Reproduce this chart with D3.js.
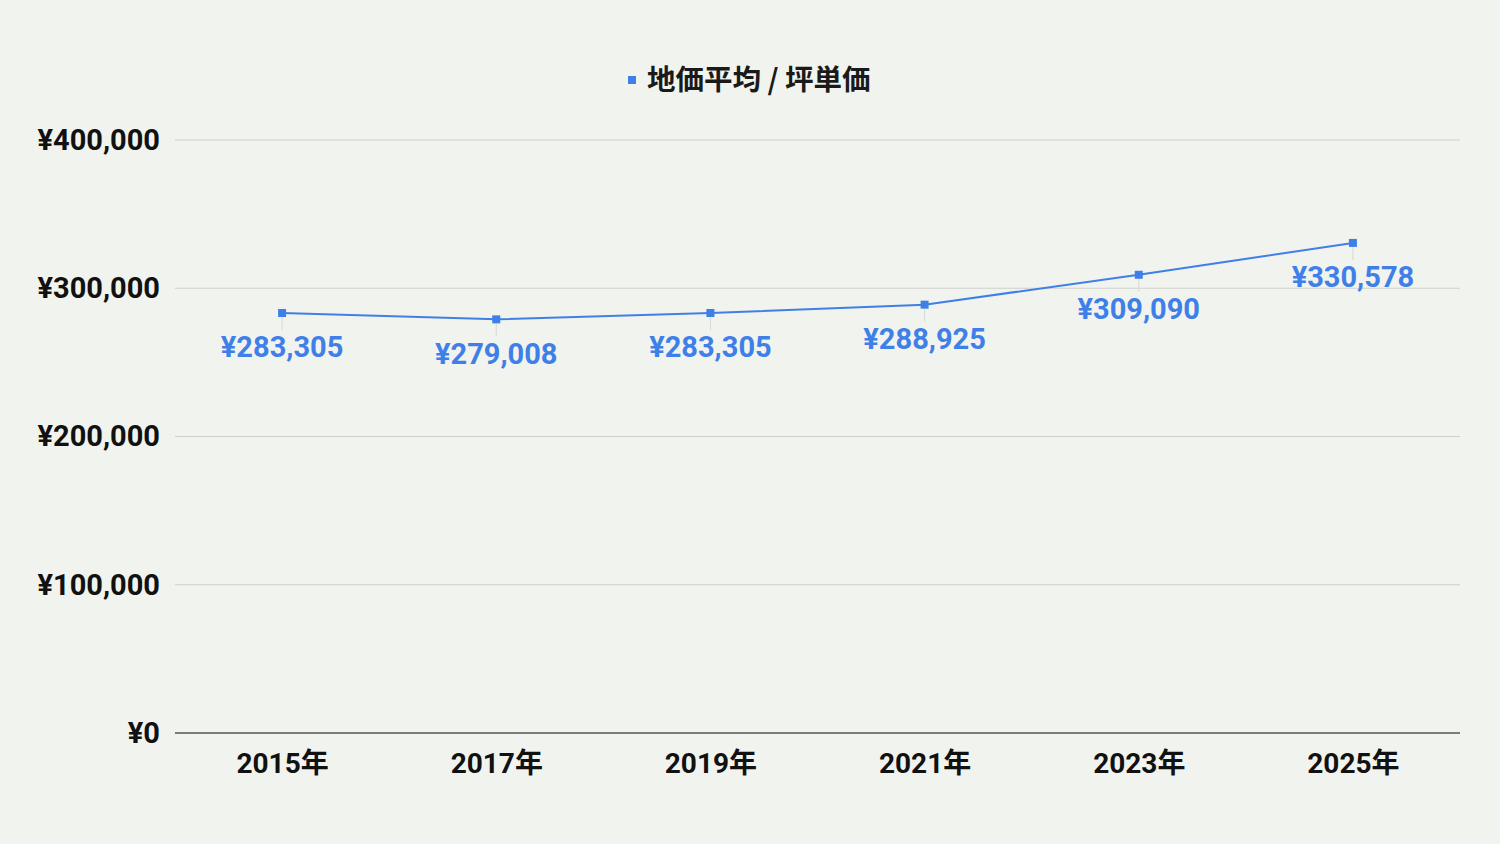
<!DOCTYPE html>
<html>
<head>
<meta charset="utf-8">
<script src="https://cdn.jsdelivr.net/npm/d3@7"></script>
<style>
  html, body { margin: 0; padding: 0; background: #f1f3ee; }
  svg { display: block; }
</style>
</head>
<body>
<div id="wrapper"></div>
<script>
const years = ["2015年", "2017年", "2019年", "2021年", "2023年", "2025年"];
const prices = [283305, 279008, 283305, 288925, 309090, 330578];
const yTicks = [0, 100000, 200000, 300000, 400000];
const seriesName = "地価平均 / 坪単価";

const dimensions = {
  width: 1500,
  height: 844,
  margins: { top: 140, right: 40, bottom: 111, left: 175 }
};
dimensions.boundedWidth = dimensions.width - dimensions.margins.left - dimensions.margins.right;
dimensions.boundedHeight = dimensions.height - dimensions.margins.top - dimensions.margins.bottom;

const blue = "#3f80e8";
const font = "Roboto, 'Noto Sans CJK JP', sans-serif";
const yen = (v) => "¥" + d3.format(",")(v);

const wrapper = d3.select("#wrapper")
  .append("svg")
  .attr("width", dimensions.width)
  .attr("height", dimensions.height)
  .style("background", "#f1f3ee");

const bounds = wrapper.append("g")
  .attr("transform", `translate(${dimensions.margins.left},${dimensions.margins.top})`);

// scales
const xScale = d3.scalePoint()
  .domain(years)
  .range([0, dimensions.boundedWidth])
  .padding(0.5);

const yScale = d3.scaleLinear()
  .domain([0, 400000])
  .range([dimensions.boundedHeight, 0]);

// grid
bounds.append("g")
  .selectAll("line")
  .data(yTicks.filter(d => d > 0))
  .join("line")
  .attr("x1", 0)
  .attr("x2", dimensions.boundedWidth)
  .attr("y1", d => yScale(d))
  .attr("y2", d => yScale(d))
  .attr("stroke", "#cfd0cc")
  .attr("stroke-width", 1);

// y axis
const yAxis = bounds.append("g")
  .call(d3.axisLeft(yScale).tickValues(yTicks).tickFormat(yen).tickSize(0).tickPadding(15));
yAxis.select(".domain").remove();
yAxis.selectAll("text")
  .attr("fill", "#111")
  .style("font-family", font)
  .style("font-weight", "bold")
  .style("font-size", "29px");

// baseline
bounds.append("line")
  .attr("x1", 0)
  .attr("x2", dimensions.boundedWidth)
  .attr("y1", yScale(0))
  .attr("y2", yScale(0))
  .attr("stroke", "#555650")
  .attr("stroke-width", 1.3);

// x axis
const xAxis = bounds.append("g")
  .attr("transform", `translate(0,${dimensions.boundedHeight})`)
  .call(d3.axisBottom(xScale).tickSize(0).tickPadding(20));
xAxis.select(".domain").remove();
xAxis.selectAll("text")
  .attr("fill", "#111")
  .style("font-family", font)
  .style("font-weight", "bold")
  .style("font-size", "28px");

// leader lines
bounds.append("g")
  .selectAll("line")
  .data(prices)
  .join("line")
  .attr("x1", (d, i) => xScale(years[i]))
  .attr("x2", (d, i) => xScale(years[i]))
  .attr("y1", d => yScale(d) + 4)
  .attr("y2", d => yScale(d) + 17)
  .attr("stroke", "#d6dad2")
  .attr("stroke-width", 1);

// line
const lineGenerator = d3.line()
  .x((d, i) => xScale(years[i]))
  .y(d => yScale(d));

bounds.append("path")
  .datum(prices)
  .attr("d", lineGenerator)
  .attr("fill", "none")
  .attr("stroke", blue)
  .attr("stroke-width", 2);

// markers
bounds.append("g")
  .selectAll("rect")
  .data(prices)
  .join("rect")
  .attr("x", (d, i) => xScale(years[i]) - 4)
  .attr("y", d => yScale(d) - 4)
  .attr("width", 8)
  .attr("height", 8)
  .attr("fill", blue);

// data labels
bounds.append("g")
  .selectAll("text")
  .data(prices)
  .join("text")
  .attr("x", (d, i) => xScale(years[i]))
  .attr("y", d => yScale(d) + 34)
  .attr("dy", "0.35em")
  .attr("text-anchor", "middle")
  .attr("fill", blue)
  .style("font-family", font)
  .style("font-weight", "bold")
  .style("font-size", "29px")
  .text(yen);

// legend
const legend = wrapper.append("g");
legend.append("text")
  .attr("x", 647)
  .attr("y", 80)
  .attr("dy", "0.35em")
  .attr("fill", "#1a1a1a")
  .style("font-family", "'Noto Sans CJK JP', Roboto, sans-serif")
  .style("font-weight", "bold")
  .style("font-size", "28.5px")
  .text(seriesName);
legend.append("rect")
  .attr("x", 628)
  .attr("y", 76)
  .attr("width", 8)
  .attr("height", 8)
  .attr("fill", blue);
</script>
</body>
</html>
